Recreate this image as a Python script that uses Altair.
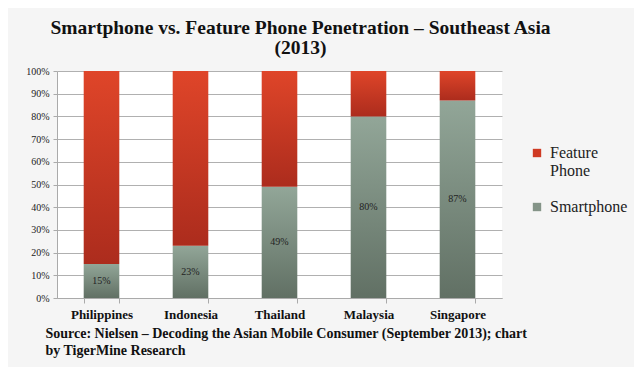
import altair as alt
import pandas as pd

countries = ["Philippines", "Indonesia", "Thailand", "Malaysia", "Singapore"]
smartphone = [15, 23, 49, 80, 87]
feature = [85, 77, 51, 20, 13]
series = ["Feature Phone", "Smartphone"]
series_colors = ["#cf3a23", "#849488"]

title_lines = ["Smartphone vs. Feature Phone Penetration \u2013 Southeast Asia", "(2013)"]
source_lines = ["Source: Nielsen \u2013 Decoding the Asian Mobile Consumer (September 2013); chart",
                "by TigerMine Research"]

df = pd.DataFrame({
    "country": countries,
    "smart": [v / 100 for v in smartphone],
    "top": [(s + f) / 100 for s, f in zip(smartphone, feature)],
    "label": [f"{v}%" for v in smartphone],
})
df["mid"] = df["smart"] / 2
df["zero"] = 0.0

legend_df = pd.DataFrame({"series": series, "country": [countries[0]] * 2, "v": [0.0, 0.0]})

SERIF = "Liberation Serif"

x_enc = alt.X(
    "country:N", sort=countries,
    scale=alt.Scale(paddingInner=0.6, paddingOuter=0.3),
    axis=alt.Axis(
        title=source_lines, titleFont=SERIF, titleFontSize=14, titleFontWeight="bold",
        titleColor="#111111", titleAnchor="start", titleAlign="left", titleX=-12, titleY=28,
        titleBaseline="top", titleLineHeight=17,
        labelFont=SERIF, labelFontSize=13, labelFontWeight="bold", labelColor="#111111",
        labelAngle=0, labelPadding=5, tickBand="extent", tickSize=5, tickColor="#aaaaaa",
        domainColor="#aaaaaa", grid=False,
    ),
)

y_scale = alt.Scale(domain=[0, 1], nice=False)
y_axis = alt.Axis(
    title=None, format=".0%", values=[i / 10 for i in range(11)],
    labelFont=SERIF, labelFontSize=10, labelColor="#222222", labelPadding=4,
    tickSize=4, tickColor="#aaaaaa", domainColor="#aaaaaa",
    gridColor="#b0b0b0", gridWidth=1.2,
)

smart_grad = alt.Gradient(
    gradient="linear", x1=0, x2=0, y1=0, y2=1,
    stops=[alt.GradientStop(color="#92a698", offset=0), alt.GradientStop(color="#617064", offset=1)],
)
feat_grad = alt.Gradient(
    gradient="linear", x1=0, x2=0, y1=0, y2=1,
    stops=[alt.GradientStop(color="#df4529", offset=0), alt.GradientStop(color="#ac2c1d", offset=1)],
)

base = alt.Chart(df)

smart_bars = base.mark_bar(fill=smart_grad).encode(
    x=x_enc,
    y=alt.Y("zero:Q", scale=y_scale, axis=y_axis),
    y2="smart:Q",
)
feat_bars = base.mark_bar(fill=feat_grad).encode(
    x=x_enc,
    y=alt.Y("smart:Q", scale=y_scale, axis=y_axis),
    y2="top:Q",
)
labels = base.mark_text(font=SERIF, fontSize=10, color="#222222").encode(
    x=x_enc,
    y=alt.Y("mid:Q", scale=y_scale, axis=y_axis),
    text="label:N",
)
legend_layer = alt.Chart(legend_df).mark_square(opacity=0, size=1).encode(
    x=x_enc,
    y=alt.Y("v:Q", scale=y_scale, axis=y_axis),
    color=alt.Color(
        "series:N",
        scale=alt.Scale(domain=series, range=series_colors),
        legend=alt.Legend(
            title=None, orient="none", legendX=472, legendY=74,
            symbolType="square", symbolSize=70, symbolOpacity=1, symbolStrokeWidth=0,
            labelFont=SERIF, labelFontSize=16, labelColor="#222222",
            labelExpr="datum.label == 'Feature Phone' ? ['Feature', 'Phone'] : datum.label",
            labelLimit=200, rowPadding=20, symbolOffset=0, labelOffset=5,
        ),
    ),
)

chart = alt.layer(smart_bars, feat_bars, labels, legend_layer).properties(
    width=445,
    height=227,
    autosize=alt.AutoSizeParams(type="none"),
    padding={"left": 49, "top": 63, "right": 132, "bottom": 69},
    background="#f5f5f5",
    title=alt.TitleParams(
        text=title_lines, font=SERIF, fontSize=19.5, fontWeight="bold", color="#111111",
        anchor="middle", dx=21, offset=8, lineHeight=20,
    ),
).configure_view(fill="white", stroke=None)

chart.save("out.html", embed_options={"renderer": "svg", "actions": False})
